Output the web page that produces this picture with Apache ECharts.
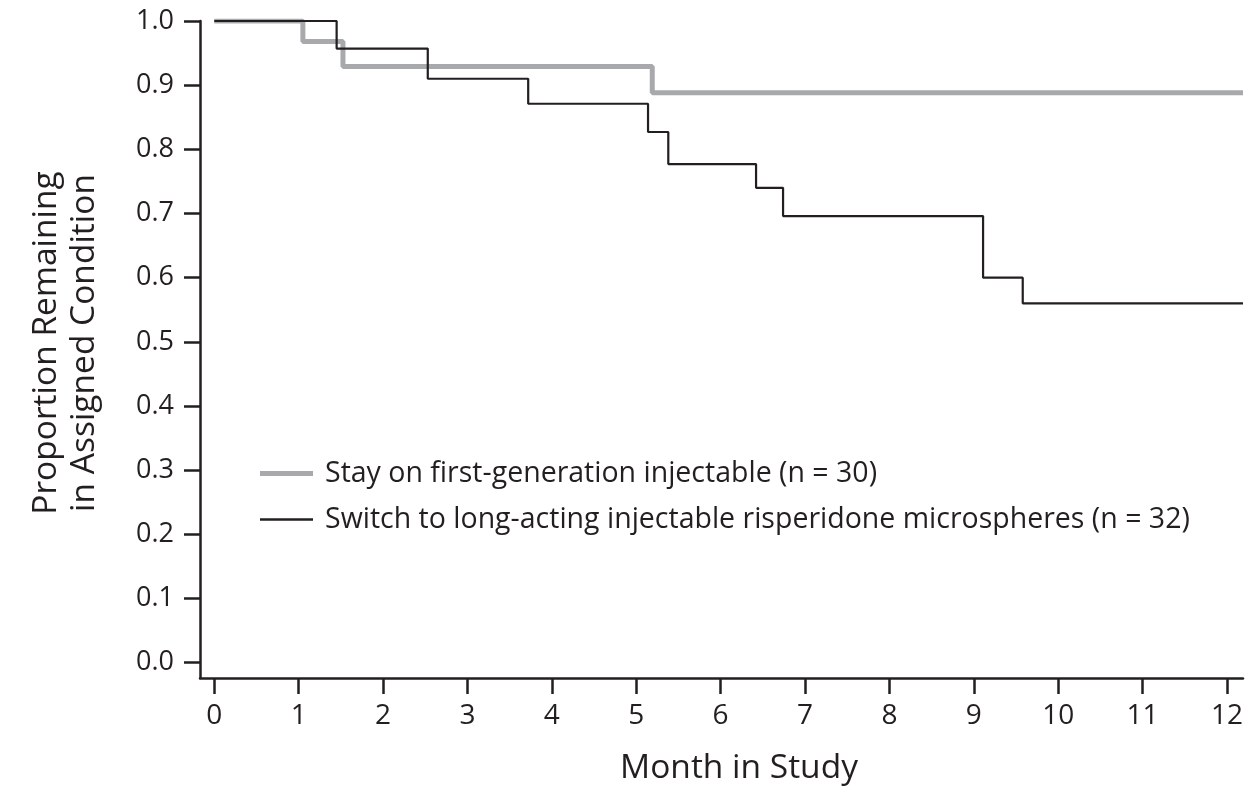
<!DOCTYPE html>
<html>
<head>
<meta charset="utf-8">
<script src="https://cdn.jsdelivr.net/npm/echarts@6/dist/echarts.min.js"></script>
<style>
html,body{margin:0;padding:0;background:#fff;}
#chart{width:1252px;height:786px;}
</style>
</head>
<body>
<div id="chart"></div>
<script>
// Kaplan-Meier style step data: [month, proportion remaining]
const stayName = 'Stay on first-generation injectable (n = 30)';
const switchName = 'Switch to long-acting injectable risperidone microspheres (n = 32)';
const stayMonths = [0, 1.05, 1.525, 5.19, 12.19];
const stayValues = [1.0, 0.968, 0.929, 0.888, 0.888];
const switchMonths = [0, 1.45, 2.53, 3.72, 5.14, 5.38, 6.42, 6.74, 9.11, 9.58, 12.19];
const switchValues = [1.0, 0.957, 0.910, 0.871, 0.827, 0.777, 0.740, 0.696, 0.600, 0.560, 0.560];
const xTicks = [0,1,2,3,4,5,6,7,8,9,10,11,12];
const yTicks = [0,0.1,0.2,0.3,0.4,0.5,0.6,0.7,0.8,0.9,1.0];
const xTitle = 'Month in Study';
const yTitle1 = 'Proportion Remaining';
const yTitle2 = 'in Assigned Condition';

const FONT = 'Open Sans';
const TXT = '#231f20';
const GRAY = '#a7a9ac';

const chart = echarts.init(document.getElementById('chart'));
const legendText = {color: TXT, fontFamily: FONT, fontSize: 28.5, padding: [0, 0, 0, 7]};
chart.setOption({
  animation: false,
  backgroundColor: '#fff',
  grid: {left: 200, right: 9, top: 21, bottom: 108, containLabel: false},
  xAxis: {
    type: 'value', min: -0.169, max: 12.19,
    splitLine: {show: false},
    axisLine: {show: true, onZero: false, lineStyle: {color: TXT, width: 2.5}},
    axisTick: {show: true, length: 16, lineStyle: {color: TXT, width: 2.5}, customValues: xTicks},
    axisLabel: {customValues: xTicks, margin: 24, color: TXT, fontFamily: FONT, fontSize: 28,
      formatter: v => String(Math.round(v))}
  },
  yAxis: {
    type: 'value', min: -0.0239, max: 1.0,
    splitLine: {show: false},
    axisLine: {show: true, onZero: false, lineStyle: {color: TXT, width: 2.5}},
    axisTick: {show: true, length: 16, lineStyle: {color: TXT, width: 2.5}, customValues: yTicks},
    axisLabel: {customValues: yTicks, margin: 26, color: TXT, fontFamily: FONT, fontSize: 27,
      formatter: v => v.toFixed(1)}
  },
  legend: [
    {
      left: 255, top: 454, itemWidth: 53, itemHeight: 5, icon: 'rect',
      itemStyle: {color: GRAY}, textStyle: legendText, data: [stayName]
    },
    {
      left: 255, top: 500, itemWidth: 53, itemHeight: 2.5, icon: 'rect',
      itemStyle: {color: TXT}, textStyle: legendText, data: [switchName]
    }
  ],
  graphic: [
    {type: 'text', x: 739, y: 768, style: {text: xTitle, fill: TXT, font: '33.5px "' + FONT + '"', textAlign: 'center', textVerticalAlign: 'middle'}},
    {type: 'text', rotation: Math.PI/2, x: 46, y: 343, style: {text: yTitle1, fill: TXT, font: '33.5px "' + FONT + '"', textAlign: 'center', textVerticalAlign: 'middle'}},
    {type: 'text', rotation: Math.PI/2, x: 84, y: 343, style: {text: yTitle2, fill: TXT, font: '33.5px "' + FONT + '"', textAlign: 'center', textVerticalAlign: 'middle'}}
  ],
  series: [
    {
      name: stayName, type: 'line', step: 'end', showSymbol: false, symbol: 'none',
      lineStyle: {color: GRAY, width: 5}, itemStyle: {color: GRAY},
      data: stayMonths.map((m, i) => [m, stayValues[i]]), z: 2
    },
    {
      name: switchName, type: 'line', step: 'end', showSymbol: false, symbol: 'none',
      lineStyle: {color: TXT, width: 2.2}, itemStyle: {color: TXT},
      data: switchMonths.map((m, i) => [m, switchValues[i]]), z: 3
    }
  ]
});
</script>
</body>
</html>
